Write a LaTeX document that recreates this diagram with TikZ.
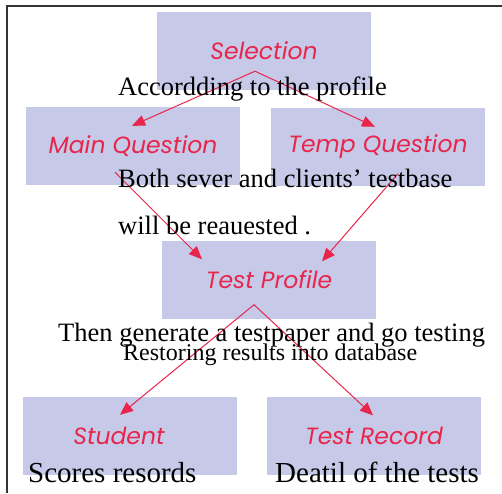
\documentclass[tikz,border=0pt]{standalone}
\usepackage{fontspec}
\setmainfont{Liberation Serif}
\newfontfamily\gothic{Poppins}
\usetikzlibrary{arrows.meta,calc}
\definecolor{boxfill}{HTML}{C6CAE8}
\definecolor{flowred}{HTML}{E8254B}
\definecolor{framegray}{HTML}{333333}
\tikzset{
  stagebox/.style={fill=boxfill, draw=none, inner sep=0pt,
    minimum width=214pt, minimum height=78pt},
  stagelabel/.style={text=flowred, font=\gothic\itshape\fontsize{23.5}{23.5}\selectfont, inner sep=0pt},
  flow/.style={draw=flowred, line width=1pt, -{Triangle[length=13pt,width=11pt]}},
  note/.style={font=\fontsize{26.5}{26.5}\selectfont, anchor=base west, inner sep=0pt},
}
\begin{document}
\begin{tikzpicture}[x=1pt,y=-1pt]
\useasboundingbox (0,0) rectangle (502,493);
% outer frame (left and top edges)
\draw[framegray, line width=1.4pt] (7,493) -- (7,6) -- (502,6);

% stage boxes
\node[stagebox, label={[stagelabel]center:Selection}]      (sel)  at (264,51)  {};
\node[stagebox, label={[stagelabel]center:Main Question}]  (main) at (133,146) {};
\node[stagebox, label={[stagelabel]center:Temp Question}]  (temp) at (378,146.5) {};
\node[stagebox, label={[stagelabel]center:Test Profile}]   (prof) at (269,279.5) {};
\node[stagebox, label={[stagelabel, xshift=-11pt]center:Student}]     (stu)  at (130,436) {};
\node[stagebox, label={[stagelabel]center:Test Record}]    (rec)  at (374,435.5) {};

% arrow start and end points inside the boxes
\coordinate (selout)  at ($(sel.south)+(-9,-19)$);
\coordinate (mainin)  at ($(main.north)+(-1,19)$);
\coordinate (tempin)  at ($(temp.north)+(-3,19.5)$);
\coordinate (mainout) at ($(main.south)+(-18,-13)$);
\coordinate (tempout) at ($(temp.south)+(20,-12)$);
\coordinate (profinl) at ($(prof.north)+(-67,19)$);
\coordinate (profinr) at ($(prof.north)+(53,21)$);
\coordinate (profout) at ($(prof.south)+(-15,-14)$);
\coordinate (stuin)   at ($(stu.north)+(-10,18)$);
\coordinate (recin)   at ($(rec.north)+(-1,19)$);

% connectors
\draw[flow] (selout) -- (mainin);
\draw[flow] (selout) -- (tempin);
\draw[flow] (mainout) -- (profinl);
\draw[flow] (tempout) -- (profinr);
\draw[flow] (profout) -- (stuin);
\draw[flow] (profout) -- (recin);

% annotations
\node[note] (n1) at (118,95)  {Accordding to the profile};
\node[note] (n2) at (118,187) {Both sever and clients’ testbase};
\node[note] (n3) at (118,234) {will be reauested .};
\node[note] (n4) at (58,341)  {Then generate a testpaper and go testing};
\node[note, font=\fontsize{24}{24}\selectfont] (n5) at (123,360) {Restoring results into database};
\node[note, font=\fontsize{29}{29}\selectfont] (n6) at (28,482)  {Scores resords};
\node[note, font=\fontsize{29}{29}\selectfont] (n7) at (275,482) {Deatil of the tests};
\end{tikzpicture}
\end{document}
